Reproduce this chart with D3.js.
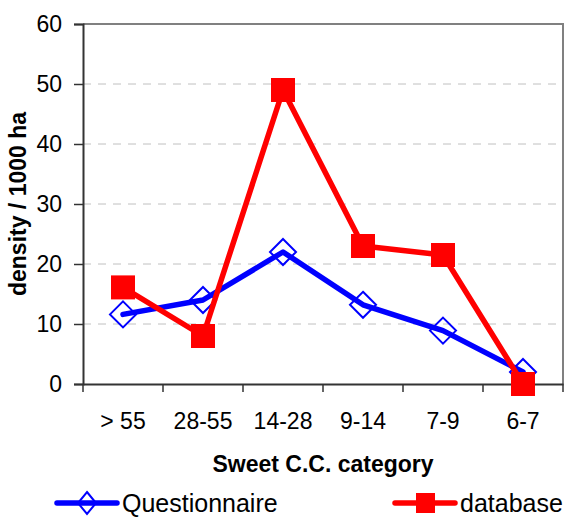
<!DOCTYPE html>
<html>
<head>
<meta charset="utf-8">
<script src="https://cdn.jsdelivr.net/npm/d3@7"></script>
<style>
  body { margin: 0; background: #fff; }
  text { font-family: "Liberation Sans", Arial, sans-serif; fill: #000; }
</style>
</head>
<body>
<svg id="chart" width="565" height="517"></svg>
<script>
// chart data
var categories = ["> 55", "28-55", "14-28", "9-14", "7-9", "6-7"];
var questionnaire = [11.6, 14, 22, 13.2, 8.9, 2];
var database = [16.1, 8, 49, 23, 21.5, 0];
var yTicks = [0, 10, 20, 30, 40, 50, 60];

var svg = d3.select("#chart");

// plot area (note: "top" is reserved on window, so use plotTop)
var plotLeft = 83, plotRight = 563, plotTop = 24, plotBottom = 384;

var x = d3.scaleBand().domain(categories).range([plotLeft, plotRight]);
var y = d3.scaleLinear().domain([0, 60]).range([plotBottom, plotTop]);

// dashed grid lines
svg.append("g")
    .selectAll("line")
    .data(yTicks.filter(function(d) { return d > 0 && d < 60; }))
    .enter().append("line")
    .attr("x1", plotLeft).attr("x2", plotRight)
    .attr("y1", function(d) { return y(d); })
    .attr("y2", function(d) { return y(d); })
    .attr("stroke", "#c0c0c0")
    .attr("stroke-width", 1)
    .attr("stroke-dasharray", "8,7");

// top and right border
svg.append("path")
    .attr("d", "M" + plotLeft + "," + plotTop + "H" + plotRight + "V" + plotBottom)
    .attr("fill", "none")
    .attr("stroke", "#808080")
    .attr("stroke-width", 2);

// y axis
var yAxis = svg.append("g")
    .attr("transform", "translate(" + plotLeft + ",0)")
    .call(d3.axisLeft(y).tickValues(yTicks).tickSize(9).tickPadding(12));
yAxis.select(".domain").attr("stroke", "#333").attr("stroke-width", 2);
yAxis.selectAll(".tick line").attr("stroke", "#333").attr("stroke-width", 1.5);
yAxis.selectAll(".tick text").attr("font-size", 23).attr("fill", "#000")
    .attr("font-family", "Liberation Sans, Arial, sans-serif");

// x axis, ticks between categories
var xAxis = svg.append("g")
    .attr("transform", "translate(0," + plotBottom + ")")
    .call(d3.axisBottom(x).tickSize(0).tickPadding(29));
xAxis.select(".domain").attr("stroke", "#333").attr("stroke-width", 2);
xAxis.selectAll(".tick text").attr("font-size", 23).attr("fill", "#000")
    .attr("font-family", "Liberation Sans, Arial, sans-serif");
xAxis.selectAll(".sep")
    .data(categories)
    .enter().append("line")
    .attr("x1", function(d) { return x(d) + x.bandwidth(); })
    .attr("x2", function(d) { return x(d) + x.bandwidth(); })
    .attr("y1", 0).attr("y2", 8)
    .attr("stroke", "#333").attr("stroke-width", 1.5);
xAxis.append("line")
    .attr("x1", plotLeft).attr("x2", plotLeft).attr("y1", 0).attr("y2", 8)
    .attr("stroke", "#333").attr("stroke-width", 1.5);

var cx = function(d, i) { return x(categories[i]) + x.bandwidth() / 2; };
var line = d3.line()
    .x(function(d, i) { return cx(d, i); })
    .y(function(d) { return y(d); });

// questionnaire series
svg.append("path")
    .datum(questionnaire)
    .attr("d", line)
    .attr("fill", "none")
    .attr("stroke", "#0000ff")
    .attr("stroke-width", 5.5)
    .attr("stroke-linejoin", "round")
    .attr("stroke-linecap", "round");
svg.append("g").selectAll("path")
    .data(questionnaire)
    .enter().append("path")
    .attr("d", "M0,-13L13,0L0,13L-13,0Z")
    .attr("transform", function(d, i) { return "translate(" + cx(d, i) + "," + y(d) + ")"; })
    .attr("fill", "none")
    .attr("stroke", "#0000ff")
    .attr("stroke-width", 2);

// database series
svg.append("path")
    .datum(database)
    .attr("d", line)
    .attr("fill", "none")
    .attr("stroke", "#ff0000")
    .attr("stroke-width", 5.5)
    .attr("stroke-linejoin", "round")
    .attr("stroke-linecap", "round");
svg.append("g").selectAll("rect")
    .data(database)
    .enter().append("rect")
    .attr("x", function(d, i) { return cx(d, i) - 12; })
    .attr("y", function(d) { return y(d) - 12; })
    .attr("width", 24).attr("height", 24)
    .attr("fill", "#ff0000");

// axis titles
svg.append("text")
    .attr("transform", "translate(26," + ((plotTop + plotBottom) / 2) + ") rotate(-90)")
    .attr("text-anchor", "middle")
    .attr("font-size", 23)
    .attr("font-weight", "bold")
    .text("density / 1000 ha");

svg.append("text")
    .attr("x", (plotLeft + plotRight) / 2).attr("y", 472)
    .attr("text-anchor", "middle")
    .attr("font-size", 23)
    .attr("font-weight", "bold")
    .text("Sweet C.C. category");

// legend
var legend = [
  {name: "Questionnaire", color: "#0000ff", x: 57},
  {name: "database", color: "#ff0000", x: 395}
];
var lg = svg.append("g").selectAll("g")
    .data(legend)
    .enter().append("g")
    .attr("transform", function(d) { return "translate(" + d.x + ",503)"; });
lg.append("line")
    .attr("x1", 0).attr("x2", 60)
    .attr("stroke", function(d) { return d.color; })
    .attr("stroke-width", 5.5)
    .attr("stroke-linecap", "round");
lg.filter(function(d, i) { return i === 0; }).append("path")
    .attr("d", "M30,-11L39,0L30,11L21,0Z")
    .attr("fill", "none")
    .attr("stroke", "#0000ff")
    .attr("stroke-width", 2);
lg.filter(function(d, i) { return i === 1; }).append("rect")
    .attr("x", 21).attr("y", -10).attr("width", 19).attr("height", 20)
    .attr("fill", "#ff0000");
lg.append("text")
    .attr("x", 65).attr("y", 9)
    .attr("font-size", 25)
    .text(function(d) { return d.name; });
</script>
</body>
</html>
